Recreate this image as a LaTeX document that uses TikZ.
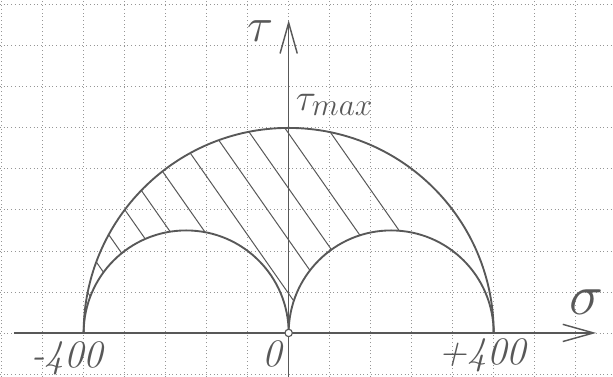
\documentclass[tikz,border=0pt]{standalone}
\usetikzlibrary{arrows.meta}
\definecolor{pencil}{RGB}{88,88,88}
\definecolor{paper}{RGB}{150,150,150}
\tikzset{
  gridline/.style={paper, line width=0.6pt, dotted},
  curve/.style={pencil, line width=1.3pt},
  hatch/.style={pencil, line width=0.7pt},
  axis/.style={pencil, line width=1pt, -{Straight Barb[length=0.75cm,width=0.42cm,line width=1pt]}},
  lbl/.style={pencil, font=\fontsize{27}{29}\selectfont\itshape}
}
\begin{document}
\begin{tikzpicture}
    \useasboundingbox (-7.04,-1.07) rectangle (7.91,8.12);
    \draw[gridline] (-7.04,-1.07) grid (7.91,8.12);
    \coordinate (O) at (0,0);
    \coordinate (xs) at (-6.7,0);
    \coordinate (xe) at (7.5,0);
    \coordinate (ys) at (0,-1.07);
    \coordinate (ye) at (0,7.63);
    \begin{scope}[even odd rule]
      \clip (-5,0) arc (180:0:5) -- cycle
        (-5,0) arc (180:0:2.5) -- cycle
        (0,0) arc (180:0:2.5) -- cycle;
      \foreach \c in {-3.45,-2.85,-2.22,-1.55,-0.95,-0.26,0.55,1.3,2.02,2.79,3.64}
        \draw[hatch, rotate=35] (\c,-8) -- (\c,8);
    \end{scope}
    \draw[curve] (-5,0) arc (180:0:5);
    \draw[curve] (-5,0) arc (180:0:2.5);
    \draw[curve] (0,0) arc (180:0:2.5);
    \draw[axis] (xs) -- (xe);
    \draw[axis] (ys) -- (ye);
    \filldraw[pencil, fill=white, line width=0.8pt] (O) circle (0.09);
    \node[pencil, font=\Huge, scale=1.35, inner sep=0pt] (tau) at (-0.68,7.35) {$\tau$};
    \node[pencil, font=\Huge, scale=1.05] (taumax) at (1.12,5.56) {$\tau_{max}$};
    \node[pencil, font=\Huge, scale=1.6] (sigma) at (7.26,0.76) {$\sigma$};
    \node[lbl] (mfour) at (-5.4,-0.61) {-400};
    \node[lbl] (zero) at (-0.4,-0.51) {0};
    \node[lbl] (pfour) at (4.72,-0.54) {+400};
\end{tikzpicture}
\end{document}
